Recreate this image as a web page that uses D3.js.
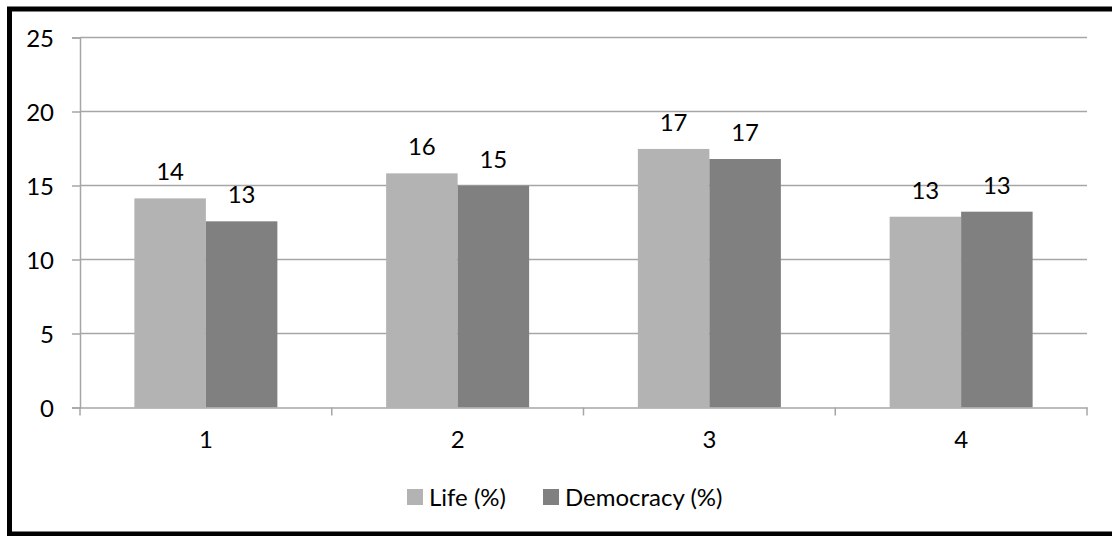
<!DOCTYPE html>
<html><head><meta charset="utf-8">
<script src="https://cdn.jsdelivr.net/npm/d3@7"></script>
<style>body{margin:0;background:#fff}svg{display:block}text{font-family:Lato,"Open Sans",sans-serif;fill:#000}</style>
</head><body>
<svg id="c" width="1112" height="536"></svg>
<script>
const categories = ["1","2","3","4"];
const seriesNames = ["Life (%)","Democracy (%)"];
const lifeValues = [14.13, 15.82, 17.47, 12.89];
const democracyValues = [12.58, 14.99, 16.79, 13.23];
const lifeLabels = ["14","16","17","13"];
const democracyLabels = ["13","15","17","13"];
const yTicks = [0,5,10,15,20,25];
const colors = ["#b3b3b3","#808080"];

const FS = "24px";
const svg = d3.select("#c");
svg.append("path").attr("d","M1112,534 H9.5 V9 H1112").attr("fill","none").attr("stroke","#000").attr("stroke-width",5);

const L=80, R=1087, T=37.5, B=407.5;
const y = d3.scaleLinear().domain([0,25]).range([B,T]);
const x0 = d3.scaleBand().domain(categories).range([L,R]).padding(0);
const bw = 71.5;
const off = (x0.bandwidth()-2*bw)/2;
const xs = d3.scaleBand().domain(seriesNames).range([off, off+2*bw]);

svg.append("g").selectAll("line").data(yTicks.filter(d=>d>0)).join("line")
  .attr("x1",L).attr("x2",R).attr("y1",d=>y(d)).attr("y2",d=>y(d))
  .attr("stroke","#a6a6a6").attr("stroke-width",1.5);

const ya = svg.append("g").attr("transform",`translate(${L},0)`).call(d3.axisLeft(y).tickValues(yTicks).tickSize(8).tickPadding(18));
ya.select(".domain").attr("stroke","#a6a6a6").attr("stroke-width",1.5);
ya.selectAll(".tick line").attr("stroke","#a6a6a6").attr("stroke-width",1.5);
ya.selectAll("text").style("font-size",FS).attr("dy","0.36em");

const data = categories.map((c,i)=>({c, vals:[{s:seriesNames[0],v:lifeValues[i],l:lifeLabels[i]},{s:seriesNames[1],v:democracyValues[i],l:democracyLabels[i]}]}));
const g = svg.append("g").selectAll("g").data(data).join("g").attr("transform",d=>`translate(${x0(d.c)},0)`);
g.selectAll("rect").data(d=>d.vals).join("rect")
  .attr("x",d=>xs(d.s)).attr("width",xs.bandwidth())
  .attr("y",d=>y(d.v)).attr("height",d=>B-y(d.v))
  .attr("fill",(d,i)=>colors[i]);
g.selectAll("text").data(d=>d.vals).join("text")
  .attr("x",d=>xs(d.s)+xs.bandwidth()/2).attr("y",d=>y(d.v)-18)
  .attr("text-anchor","middle").style("font-size",FS).text(d=>d.l);

const xa = svg.append("g").attr("transform",`translate(0,${B})`)
  .call(d3.axisBottom(x0).tickSize(0).tickPadding(23));
xa.select(".domain").attr("stroke","#a6a6a6").attr("stroke-width",1.5);
xa.selectAll("text").style("font-size",FS);
svg.append("g").selectAll("line").data(d3.range(categories.length+1)).join("line")
  .attr("x1",i=>L+i*x0.step()).attr("x2",i=>L+i*x0.step())
  .attr("y1",B).attr("y2",B+8).attr("stroke","#a6a6a6").attr("stroke-width",1.5);

const legX = [407, 543];
const lg = svg.append("g").selectAll("g").data(seriesNames).join("g")
  .attr("transform",(d,i)=>`translate(${legX[i]},489)`);
lg.append("rect").attr("width",16).attr("height",16).attr("fill",(d,i)=>colors[i]);
lg.append("text").attr("x",22).attr("y",8).attr("dy","0.36em").style("font-size",FS).text(d=>d);
</script>
</body></html>
